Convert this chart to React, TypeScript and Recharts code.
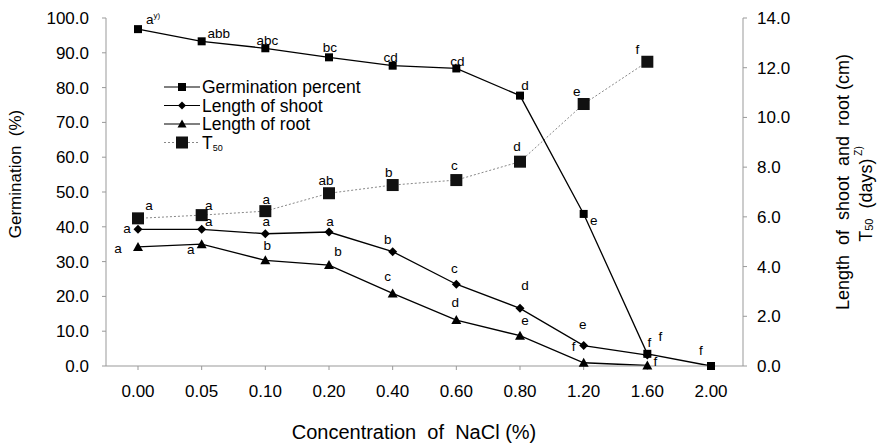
import { ComposedChart, Line, XAxis, YAxis, Legend, LabelList, Label } from 'recharts';

const concentrations = ['0.00', '0.05', '0.10', '0.20', '0.40', '0.60', '0.80', '1.20', '1.60', '2.00'];
const germination = [96.8, 93.3, 91.3, 88.7, 86.3, 85.5, 77.7, 43.7, 3.5, 0];
const shootLength = [5.5, 5.5, 5.32, 5.39, 4.6, 3.29, 2.32, 0.82, 0.44, null];
const rootLength = [4.79, 4.9, 4.25, 4.06, 2.92, 1.85, 1.22, 0.13, 0.02, null];
const t50Days = [5.94, 6.07, 6.23, 6.95, 7.28, 7.48, 8.22, 10.54, 12.24, null];

const germLetters = ['a', 'abb', 'abc', 'bc', 'cd', 'cd', 'd', 'e', 'f', 'f'];
const shootLetters = ['a', 'a', 'a', 'a', 'b', 'c', 'd', 'e', 'f', ''];
const rootLetters = ['a', 'a', 'b', 'b', 'c', 'd', 'e', 'f', 'f', ''];
const t50Letters = ['a', 'a', 'a', 'ab', 'b', 'c', 'd', 'e', 'f', ''];

const pctTicks = [0, 10, 20, 30, 40, 50, 60, 70, 80, 90, 100];
const lenTicks = [0, 2, 4, 6, 8, 10, 12, 14];

const data = concentrations.map((c, i) => ({
  conc: c,
  germination: germination[i],
  shoot: shootLength[i],
  root: rootLength[i],
  t50: t50Days[i],
}));

// letter placement relative to each point (label centre)
const germOffsets = [[11, -10], [17, -8], [2, -8], [1, -10], [-2, -8], [1, -7], [5, -10], [10, 7], [13, -17], [-10, -16]];
const shootOffsets = [[-11, -1], [7, -8], [1, -12], [1, -11], [-5, -12], [-2, -16], [5, -23], [-1, -21], [2, -13], [0, 0]];
const rootOffsets = [[-20, 2], [-11, 5], [2, -15], [9, -14], [-5, -17], [-1, -18], [5, -15], [-10, -16], [8, -4], [0, 0]];
const t50Offsets = [[11, -13], [7, -10], [1, -12], [-3, -13], [-4, -13], [-2, -15], [-3, -15], [-7, -13], [-10, -12], [0, 0]];

const FONT = 'Arial, "Liberation Sans", sans-serif';

const Square = (size: number, fill: string) => (props: any) => {
  const { cx, cy, index } = props;
  if (cx == null || cy == null || props.value == null) return <g key={index} />;
  return <rect key={index} x={cx - size / 2} y={cy - size / 2} width={size} height={size} fill={fill} />;
};

const Diamond = (props: any) => {
  const { cx, cy, index } = props;
  if (cx == null || cy == null || props.value == null) return <g key={index} />;
  const r = 4.5;
  return <polygon key={index} points={`${cx},${cy - r} ${cx + r},${cy} ${cx},${cy + r} ${cx - r},${cy}`} fill="#000" />;
};

const Triangle = (props: any) => {
  const { cx, cy, index } = props;
  if (cx == null || cy == null || props.value == null) return <g key={index} />;
  return <polygon key={index} points={`${cx},${cy - 5} ${cx + 5},${cy + 4} ${cx - 5},${cy + 4}`} fill="#000" />;
};

const letterLabel = (letters: string[], offsets: number[][]) => (props: any) => {
  const { x, y, index } = props;
  const txt = letters[index];
  if (!txt || x == null || y == null) return null;
  const [dx, dy] = offsets[index];
  return (
    <text x={x + dx} y={y + dy + 4.5} textAnchor="middle" fontSize={13.5} fontFamily={FONT} fill="#000">
      {txt}
    </text>
  );
};

const germLabel = (props: any) => {
  const { x, y, index } = props;
  if (index !== 0) return letterLabel(germLetters, germOffsets)(props);
  const [dx, dy] = germOffsets[0];
  return (
    <text x={x + dx - 3} y={y + dy + 4.5} fontSize={13.5} fontFamily={FONT} fill="#000">
      a<tspan fontSize={8} dy={-6}>y)</tspan>
    </text>
  );
};

const LegendBox = () => {
  const rows = [
    { name: 'Germination percent', dot: 'sq' },
    { name: 'Length of shoot', dot: 'dia' },
    { name: 'Length of root', dot: 'tri' },
    { name: 'T', dot: 'big' },
  ];
  return (
    <svg width={230} height={84} style={{ overflow: 'visible' }}>
      {rows.map((r, i) => {
        const y = 8 + i * 18.5;
        const dashed = r.dot === 'big';
        return (
          <g key={r.name}>
            <line x1={2} x2={38} y1={y} y2={y} stroke={dashed ? '#888' : '#000'} strokeWidth={1.2} strokeDasharray={dashed ? '2 2' : undefined} />
            {r.dot === 'sq' && <rect x={16} y={y - 4} width={8} height={8} fill="#000" />}
            {r.dot === 'dia' && <polygon points={`20,${y - 4} 24,${y} 20,${y + 4} 16,${y}`} fill="#000" />}
            {r.dot === 'tri' && <polygon points={`20,${y - 4.5} 24.5,${y + 3.5} 15.5,${y + 3.5}`} fill="#000" />}
            {r.dot === 'big' && <rect x={14} y={y - 6} width={12} height={12} fill="#111" />}
            <text x={40} y={y + 6} fontSize={17.5} fontFamily={FONT} fill="#000">
              {r.name}
              {r.dot === 'big' && <tspan fontSize={9} dy={2}>50</tspan>}
            </text>
          </g>
        );
      })}
    </svg>
  );
};

const leftTitle = () => {
  const cx = 15;
  const cy = 174;
  return (
    <text x={cx} y={cy} transform={`rotate(-90 ${cx} ${cy})`} textAnchor="middle" dominantBaseline="central" fontSize={17} fontFamily={FONT} fill="#000" style={{ whiteSpace: 'pre' }}>
      Germination  (%)
    </text>
  );
};

const rightTitle = () => {
  const x1 = 843;
  const x2 = 866;
  const cy1 = 182;
  const cy2 = 194;
  return (
    <g>
      <text x={x1} y={cy1} transform={`rotate(-90 ${x1} ${cy1})`} textAnchor="middle" dominantBaseline="central" fontSize={18} fontFamily={FONT} fill="#000" style={{ whiteSpace: 'pre' }}>
        Length  of  shoot  and  root (cm)
      </text>
      <text x={x2} y={cy2} transform={`rotate(-90 ${x2} ${cy2})`} textAnchor="middle" dominantBaseline="central" fontSize={18} fontFamily={FONT} fill="#000" style={{ whiteSpace: 'pre' }}>
        T<tspan fontSize={11} dy={3}>50</tspan>
        <tspan dy={-3}>  (days)</tspan>
        <tspan fontSize={10} dy={-8}> Z)</tspan>
      </text>
    </g>
  );
};

const bottomTitle = () => {
  return (
    <text x={414} y={439} textAnchor="middle" fontSize={20} fontFamily={FONT} fill="#000" style={{ whiteSpace: 'pre' }}>
      Concentration  of  NaCl (%)
    </text>
  );
};

const tickStyle = { fontSize: 17, fontFamily: FONT, fill: '#000' };

export default function App() {
  return (
    <div style={{ position: 'absolute', left: 0, top: 0, width: 879, height: 448, background: '#fff' }}>
      <ComposedChart width={879} height={448} data={data} margin={{ top: 18, right: 76, bottom: 42, left: 46 }}>
        <XAxis
          dataKey="conc"
          stroke="#999"
          tick={tickStyle}
          tickSize={4}
          tickMargin={15}
          height={40}
          padding={{ left: 32, right: 32 }}
        >
          <Label content={bottomTitle} />
        </XAxis>
        <YAxis
          yAxisId="pct"
          domain={[0, 100]}
          ticks={pctTicks}
          tickFormatter={(v: number) => v.toFixed(1)}
          stroke="#999"
          tick={tickStyle}
          tickSize={4}
          tickMargin={13}
          width={60}
          interval={0}
        >
          <Label content={leftTitle} />
        </YAxis>
        <YAxis
          yAxisId="len"
          orientation="right"
          domain={[0, 14]}
          ticks={lenTicks}
          tickFormatter={(v: number) => v.toFixed(1)}
          stroke="#999"
          tick={tickStyle}
          tickSize={4}
          tickMargin={10}
          width={60}
          interval={0}
        >
          <Label content={rightTitle} />
        </YAxis>
        <Legend
          layout="vertical"
          align="center"
          verticalAlign="middle"
          content={LegendBox}
          wrapperStyle={{ position: 'absolute', top: 79, left: 162, width: 230, overflow: 'visible' }}
        />
        <Line
          yAxisId="len"
          dataKey="t50"
          stroke="#888"
          strokeWidth={1}
          strokeDasharray="2 2"
          dot={Square(12, '#111')}
          isAnimationActive={false}
        >
          <LabelList dataKey="t50" content={letterLabel(t50Letters, t50Offsets)} />
        </Line>
        <Line
          yAxisId="pct"
          dataKey="germination"
          stroke="#000"
          strokeWidth={1.3}
          dot={Square(8, '#000')}
          isAnimationActive={false}
        >
          <LabelList dataKey="germination" content={germLabel} />
        </Line>
        <Line
          yAxisId="len"
          dataKey="shoot"
          stroke="#000"
          strokeWidth={1.3}
          dot={Diamond}
          isAnimationActive={false}
        >
          <LabelList dataKey="shoot" content={letterLabel(shootLetters, shootOffsets)} />
        </Line>
        <Line
          yAxisId="len"
          dataKey="root"
          stroke="#000"
          strokeWidth={1.3}
          dot={Triangle}
          isAnimationActive={false}
        >
          <LabelList dataKey="root" content={letterLabel(rootLetters, rootOffsets)} />
        </Line>
      </ComposedChart>
    </div>
  );
}
